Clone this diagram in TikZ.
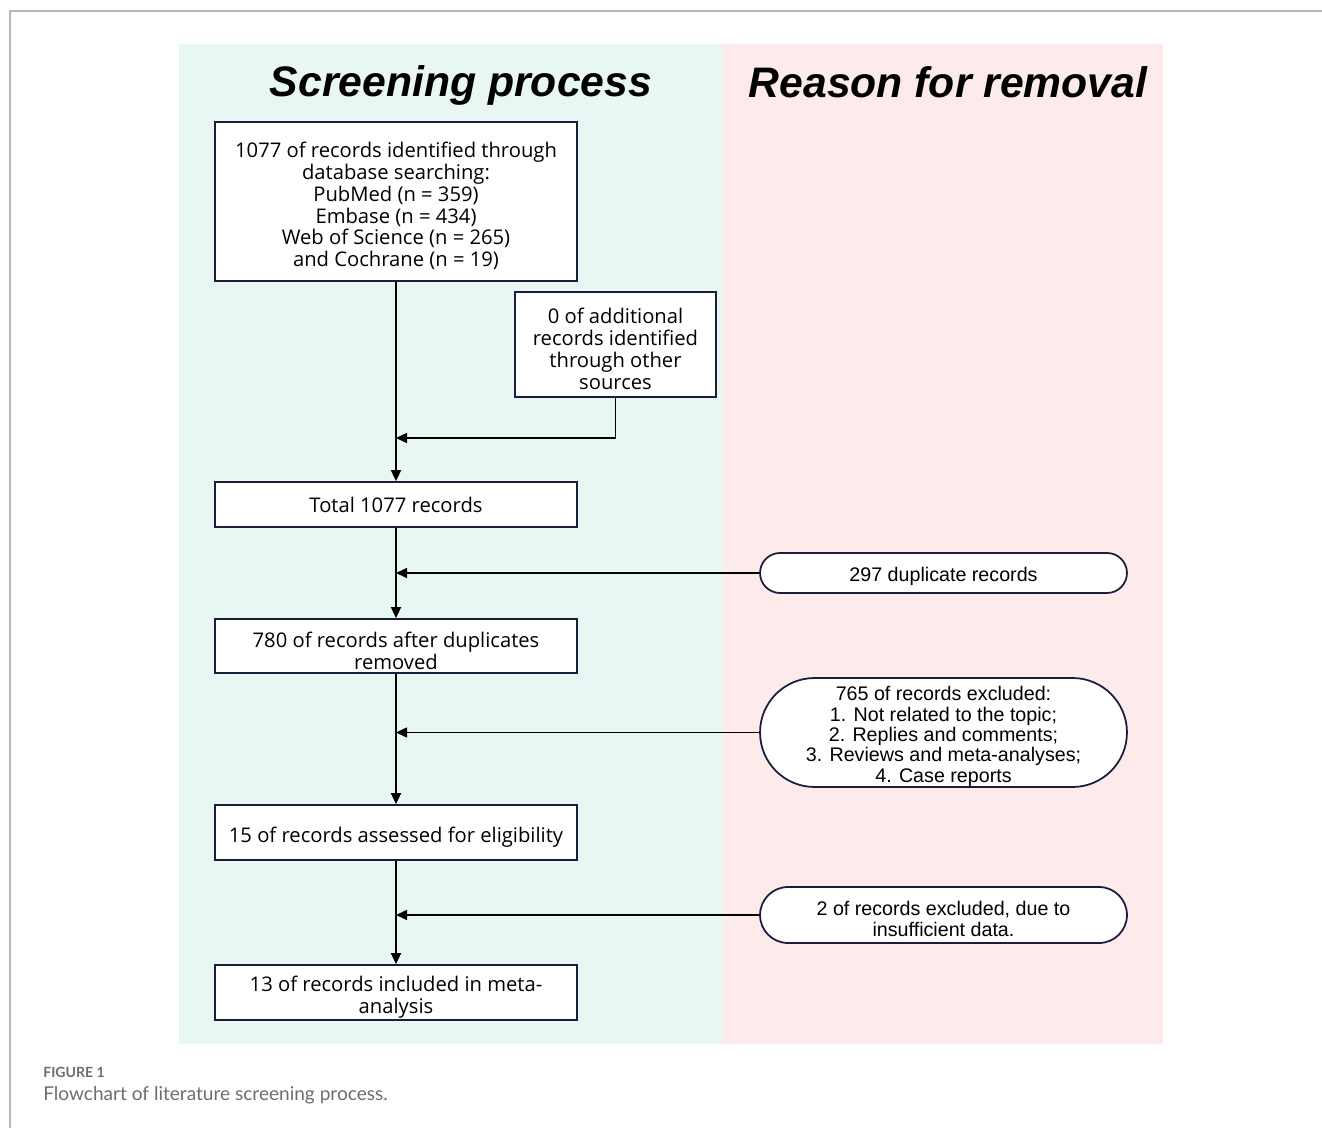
\documentclass[tikz,border=0pt]{standalone}
\usepackage{fontspec}
\setmainfont{Open Sans}
\newfontfamily\ovalfont{Liberation Sans}
\newfontfamily\capfont{Lato}
\usetikzlibrary{arrows.meta,shapes.misc}
\definecolor{screenbg}{HTML}{E8F7F4}
\definecolor{removebg}{HTML}{FDEBEB}
\definecolor{edge}{HTML}{1C1C3C}
\definecolor{capgray}{HTML}{6E6E6E}
\newcommand\liftbox{\rule{0pt}{13.8pt}}
\newcommand\liftoval{\rule{0pt}{12.5pt}}
\tikzset{
  box/.style={draw=edge,line width=1pt,fill=white,align=center,inner sep=0pt,
    minimum width=7.24cm,font=\fontsize{11.5}{12.5}\selectfont},
  oval/.style={rounded rectangle,draw=edge,line width=1pt,fill=white,align=center,
    inner sep=0pt,minimum width=7.34cm,font=\ovalfont\fontsize{11.2}{11.6}\selectfont},
  arr/.style={line width=0.9pt,-{Triangle[length=2.2mm,width=2mm]}},
  paneltitle/.style={anchor=base,inner sep=0pt,font=\ovalfont\bfseries\itshape\fontsize{24.3}{28}\selectfont}
}
\begin{document}
\begin{tikzpicture}[x=0.02cm,y=-0.02cm]
  \useasboundingbox (0,0) rectangle (1322,1128);
  \draw[line width=1pt,color=black!28] (10,1128) -- (10,11) -- (1322,11);
  \fill[screenbg] (179,44) rectangle (723,1044);
  \fill[removebg] (723,44) rectangle (1163,1044);
  \node[paneltitle] (t1) at (461,97) {Screening process};
  \node[paneltitle] (t2) at (948,98) {Reason for removal};

  \node[box,minimum height=3.18cm] (rec) at (396,201.5) {\liftbox 1077 of records identified through\\database searching:\\PubMed (n = 359)\\Embase (n = 434)\\Web of Science (n = 265)\\and Cochrane (n = 19)};
  \node[box,minimum width=4.02cm,minimum height=2.1cm] (other) at (615.5,344.5) {\liftbox 0 of additional\\records identified\\through other\\sources};
  \node[box,minimum height=0.9cm] (total) at (396,504.5) {Total 1077 records};
  \node[box,minimum height=1.08cm] (nodup) at (396,646) {\liftbox 780 of records after duplicates\\removed};
  \node[box,minimum height=1.1cm] (elig) at (396,832.5) {\liftbox 15 of records assessed for eligibility};
  \node[box,minimum height=1.1cm] (incl) at (396,992.5) {\liftbox 13 of records included in meta-\\analysis};

  \node[oval,minimum height=0.8cm] (dup) at (943.5,573) {\liftoval 297 duplicate records};
  \node[oval,minimum height=2.18cm] (excl) at (943.5,732.5) {\liftoval 765 of records excluded:\\1. Not related to the topic;\\2. Replies and comments;\\3. Reviews and meta-analyses;\\4. Case reports};
  \node[oval,minimum height=1.12cm] (insuf) at (943.5,915) {\liftoval 2 of records excluded, due to\\insufficient data.};

  \coordinate (join) at (396,438);
  \draw[arr] (rec) -- (total);
  \draw[arr] (other.south) |- (join);
  \draw[arr] (total) -- (nodup);
  \draw[arr] (nodup) -- (elig);
  \draw[arr] (elig) -- (incl);
  \draw[arr] (dup.west) -- (dup.west -| total.south);
  \draw[arr] (excl.west) -- (excl.west -| nodup.south);
  \draw[arr] (insuf.west) -- (insuf.west -| elig.south);

  \node[anchor=west,font=\capfont\bfseries\fontsize{8}{9}\selectfont,text=capgray,inner sep=0pt] (fig) at (43,1072) {FIGURE 1};
  \node[anchor=west,font=\capfont\fontsize{10.85}{13}\selectfont,text=capgray,inner sep=0pt] (cap) at (43,1095) {Flowchart of literature screening process.};
\end{tikzpicture}
\end{document}
